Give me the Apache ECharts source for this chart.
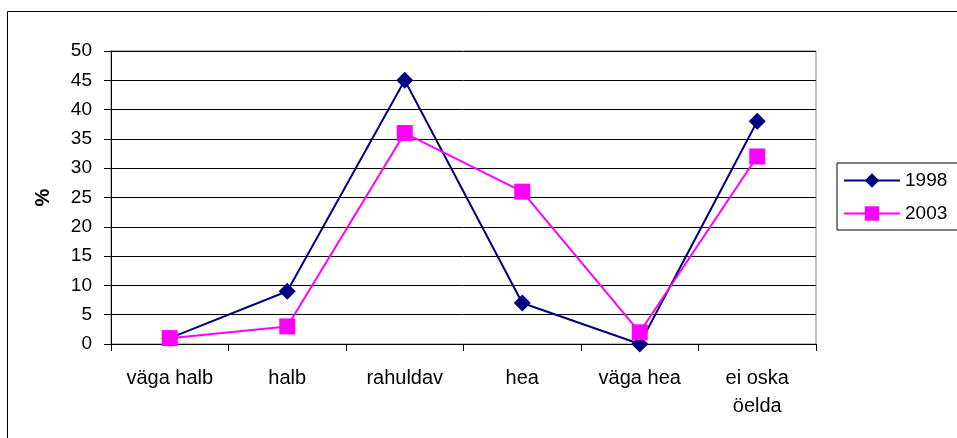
<!DOCTYPE html>
<html>
<head>
<meta charset="utf-8">
<script src="https://cdn.jsdelivr.net/npm/echarts@6/dist/echarts.min.js"></script>
<style>
  html, body { margin: 0; padding: 0; background: #fff; }
  #chart { width: 957px; height: 438px; }
</style>
</head>
<body>
<div id="chart"></div>
<script>
// andmed
const categories = ['väga halb', 'halb', 'rahuldav', 'hea', 'väga hea', 'ei oska\nöelda']
const values1998 = [1, 9, 45, 7, 0, 38]
const values2003 = [1, 3, 36, 26, 2, 32]
const seriesNames = ['1998', '2003']

const font = 'Liberation Sans, Arial, sans-serif'
const chart = echarts.init(document.getElementById('chart'))

chart.setOption({
  backgroundColor: '#fff',
  animation: false,
  graphic: [
    {
      type: 'rect',
      shape: { x: 7.5, y: 11.5, width: 1000, height: 500 },
      style: { fill: 'none', stroke: '#000', lineWidth: 1 },
      silent: true
    }
  ],
  grid: { left: 111, top: 51, width: 705, height: 293, show: true, borderColor: '#808080', borderWidth: 1 },
  legend: {
    left: 837,
    top: 163,
    orient: 'vertical',
    padding: [8, 12, 7, 6],
    itemGap: 14,
    itemWidth: 56,
    itemHeight: 18,
    borderColor: '#000',
    borderWidth: 1,
    textStyle: { fontFamily: font, fontSize: 19, lineHeight: 19, color: '#000' },
    data: seriesNames
  },
  xAxis: {
    type: 'category',
    data: categories,
    boundaryGap: true,
    axisLine: { lineStyle: { color: '#000', width: 1 } },
    axisTick: { show: true, length: 7, lineStyle: { color: '#000' } },
    axisLabel: { fontFamily: font, fontSize: 20, color: '#000', margin: 20, lineHeight: 28, interval: 0 },
    splitLine: { show: false }
  },
  yAxis: {
    type: 'value',
    min: 0,
    max: 50,
    interval: 5,
    name: '%',
    nameLocation: 'middle',
    nameGap: 58,
    nameRotate: 90,
    nameTextStyle: { fontFamily: font, fontSize: 20, color: '#000', fontWeight: 'bold' },
    axisLine: { show: true, lineStyle: { color: '#000' } },
    axisTick: { show: true, length: 7, lineStyle: { color: '#000' } },
    axisLabel: { fontFamily: font, fontSize: 19, color: '#000', margin: 19 },
    splitLine: { show: true, lineStyle: { color: '#000', width: 1 } }
  },
  series: [
    {
      name: seriesNames[0],
      type: 'line',
      data: values1998,
      symbol: 'diamond',
      symbolSize: 17,
      color: '#000080',
      lineStyle: { width: 2, color: '#000080' },
      itemStyle: { color: '#000080' },
      z: 2
    },
    {
      name: seriesNames[1],
      type: 'line',
      data: values2003,
      symbol: 'rect',
      symbolSize: 16,
      color: '#ff00ff',
      lineStyle: { width: 2, color: '#ff00ff' },
      itemStyle: { color: '#ff00ff' },
      z: 3
    }
  ]
})
</script>
</body>
</html>
